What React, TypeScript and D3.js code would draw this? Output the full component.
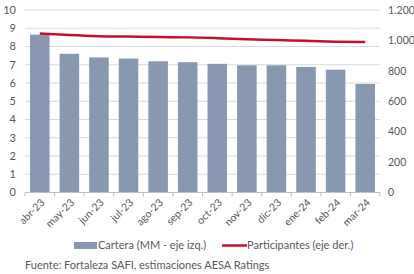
import React from "react";
import * as d3 from "d3";

const categories = ["abr-23","may-23","jun-23","jul-23","ago-23","sep-23","oct-23","nov-23","dic-23","ene-24","feb-24","mar-24"];
const cartera = [8.65, 7.6, 7.4, 7.34, 7.19, 7.14, 7.05, 6.97, 6.97, 6.88, 6.73, 5.95];
const participantes = [1045, 1035, 1028, 1025, 1022, 1020, 1015, 1008, 1003, 997, 992, 990];
const leftTicks = [0,1,2,3,4,5,6,7,8,9,10];
const rightTicks = [0,200,400,600,800,1000,1200];

const W = 414, H = 274;
const x0 = 25, x1 = 380, yTop = 10, yBot = 192.5;
const font = "Lato, 'Open Sans', sans-serif";
const txt = "#595959";

export default function App() {
  const x = d3.scaleBand<string>().domain(categories).range([x0, x1]).paddingInner(0.34).paddingOuter(0.17);
  const yL = d3.scaleLinear().domain([0, 10]).range([yBot, yTop]);
  const yR = d3.scaleLinear().domain([0, 1200]).range([yBot, yTop]);
  const fmt = (v: number) => d3.format(",")(v).replace(/,/g, ".");
  const line = d3.line<number>().x((_, i) => (x(categories[i]) as number) + x.bandwidth() / 2).y(d => yR(d)).curve(d3.curveMonotoneX);
  const step = x.step();
  return (
    <svg width={W} height={H} style={{ position: "absolute", left: 0, top: 0, background: "#fff" }}>
      {leftTicks.filter(t => t > 0).map(t => (
        <line key={"g" + t} x1={x0} x2={x1} y1={yL(t)} y2={yL(t)} stroke="#d9d9d9" strokeWidth={1} />
      ))}
      {categories.map((c, i) => (
        <rect key={c} x={x(c)} y={yL(cartera[i])} width={x.bandwidth()} height={yBot - yL(cartera[i])} fill="#8798b0" />
      ))}
      <line x1={x0} x2={x1} y1={yBot} y2={yBot} stroke="#bfbfbf" strokeWidth={1} />
      {d3.range(categories.length + 1).map(i => (
        <line key={"t" + i} x1={x0 + i * step} x2={x0 + i * step} y1={yBot} y2={yBot + 4} stroke="#bfbfbf" strokeWidth={1} />
      ))}
      <path d={line(participantes) || ""} fill="none" stroke="#c8102e" strokeWidth={2.5} />
      {leftTicks.map(t => (
        <text key={"l" + t} x={16} y={yL(t)} dy="0.35em" textAnchor="end" fontSize={11} fontFamily={font} fill={txt}>{t}</text>
      ))}
      {rightTicks.map(t => (
        <text key={"r" + t} x={388} y={yR(t)} dy="0.35em" textAnchor="start" fontSize={10.5} fontFamily={font} fill={txt}>{fmt(t)}</text>
      ))}
      {categories.map(c => {
        const cx = (x(c) as number) + x.bandwidth() / 2 + 3;
        const cy = yBot + 8;
        return (
          <text key={"x" + c} x={cx} y={cy} dy="0.35em" textAnchor="end" fontSize={10.5} fontFamily={font} fill={txt} transform={`rotate(-45 ${cx} ${cy})`}>{c}</text>
        );
      })}
      <rect x={74} y={242} width={23} height={7} fill="#8798b0" />
      <text x={98} y={245.5} dy="0.35em" fontSize={11} fontFamily={font} fill={txt}>Cartera (MM - eje izq.)</text>
      <line x1={222} x2={247} y1={245.5} y2={245.5} stroke="#c8102e" strokeWidth={2.5} />
      <text x={247} y={245.5} dy="0.35em" fontSize={11} fontFamily={font} fill={txt}>Participantes (eje der.)</text>
      <text x={25} y={265} dy="0.35em" fontSize={11} fontFamily={font} fill={txt}>Fuente: Fortaleza SAFI, estimaciones AESA Ratings</text>
    </svg>
  );
}
